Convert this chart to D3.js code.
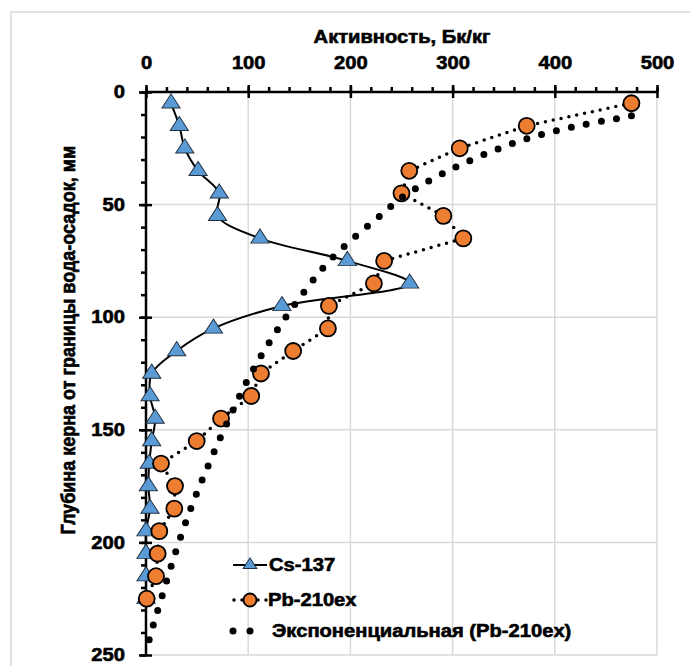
<!DOCTYPE html>
<html>
<head>
<meta charset="utf-8">
<script src="https://cdn.jsdelivr.net/npm/d3@7"></script>
<style>
  body { margin: 0; background: #fff; }
  svg { display: block; }
  text { font-family: "Liberation Sans", Arial, sans-serif; font-weight: bold; fill: #000; stroke: #000; stroke-width: 0.6px; }
</style>
</head>
<body>
<svg width="690" height="666"></svg>
<script>
// глубина, мм
const depths = [5, 15, 25, 35, 45, 55, 65, 75, 85, 95, 105, 115, 125, 135, 145, 155, 165, 175, 185, 195, 205, 215, 225]
// активность Cs-137, Бк/кг
const cs137 = [24.5, 32.6, 38, 51, 71.7, 70, 111.5, 197, 258, 133, 66, 30, 5.6, 4, 9, 5.6, 3.2, 2.3, 3.9, 0, 0, 0, 0]
// активность Pb-210ex, Бк/кг
const pb210 = [475, 372.5, 307, 257.6, 250, 291, 310.5, 233, 223, 179, 178, 144, 112.5, 103, 73.4, 49.6, 14.7, 28.4, 27.7, 13, 11.4, 9.8, 0.7]
// экспоненциальный тренд: [активность, глубина]
const trend = [[475, 10.6], [468, 11.2], [423, 15], [378, 20], [336, 26.8], [294, 35.4], [253, 46], [230, 54.6],
  [183, 73.3], [153, 89.8], [126, 107.4], [102, 125.6], [81.5, 144.8], [62, 164.7], [44, 184.7],
  [28.7, 204.7], [14.7, 225.4], [5.6, 239], [1.6, 245.8], [0.7, 247]]

const xTicks = [0, 100, 200, 300, 400, 500]
const yTicks = [0, 50, 100, 150, 200, 250]
const xMinor = d3.range(0, 501, 20)
const yMinor = d3.range(0, 251, 10)

const sx = 1.12 // растяжение текста по горизонтали
const svg = d3.select('svg')

svg.append('rect')
   .attr('x', 11).attr('y', 12).attr('width', 720).attr('height', 720)
   .attr('fill', 'none').attr('stroke', '#e2e2e2').attr('stroke-width', 2)

const xScale = d3.scaleLinear().domain([0, 500]).range([146, 657])
const yScale = d3.scaleLinear().domain([0, 250]).range([92, 655])

// сетка
const grid = svg.append('g')
grid.selectAll('.gx').data(xTicks.slice(1)).enter().append('line')
    .attr('x1', d => xScale(d)).attr('x2', d => xScale(d))
    .attr('y1', yScale(0)).attr('y2', yScale(250))
    .attr('stroke', '#d9d9d9').attr('stroke-width', 1.5)
grid.selectAll('.gy').data(yTicks.slice(1)).enter().append('line')
    .attr('y1', d => yScale(d)).attr('y2', d => yScale(d))
    .attr('x1', xScale(0)).attr('x2', xScale(500))
    .attr('stroke', '#d9d9d9').attr('stroke-width', 1.5)

// оси
const axisStyle = g => {
  g.selectAll('.domain').remove()
  g.selectAll('line').attr('stroke', '#000').attr('stroke-width', 2.5)
}
svg.append('g').attr('transform', `translate(0,${yScale(0)})`)
   .call(d3.axisTop(xScale).tickValues(xMinor).tickSize(5).tickFormat(''))
   .call(axisStyle)
svg.append('g').attr('transform', `translate(0,${yScale(0)})`)
   .call(d3.axisBottom(xScale).tickValues(xTicks).tickSize(6).tickFormat(''))
   .call(axisStyle)
const xAx = svg.append('g').attr('transform', `translate(0,${yScale(0)})`)
   .call(d3.axisTop(xScale).tickValues(xTicks).tickSize(7).tickPadding(16))
   .call(axisStyle)
xAx.selectAll('text').attr('font-size', 18).attr('transform', `scale(${sx},1)`)
   .attr('x', 0).attr('dy', '0.35em').attr('y', -29)

svg.append('g').attr('transform', `translate(${xScale(0)},0)`)
   .call(d3.axisLeft(yScale).tickValues(yMinor).tickSize(5).tickFormat(''))
   .call(axisStyle)
svg.append('g').attr('transform', `translate(${xScale(0)},0)`)
   .call(d3.axisRight(yScale).tickValues(yTicks).tickSize(6).tickFormat(''))
   .call(axisStyle)
const yAx = svg.append('g').attr('transform', `translate(${xScale(0)},0)`)
   .call(d3.axisLeft(yScale).tickValues(yTicks).tickSize(7).tickPadding(14))
   .call(axisStyle)
yAx.selectAll('text').attr('font-size', 18).attr('transform', `scale(${sx},1)`)
   .attr('x', -21 / sx)

svg.append('line')
   .attr('x1', xScale(0) - 1).attr('x2', xScale(500) + 1)
   .attr('y1', yScale(0)).attr('y2', yScale(0))
   .attr('stroke', '#000').attr('stroke-width', 2.5)
svg.append('line')
   .attr('x1', xScale(0)).attr('x2', xScale(0))
   .attr('y1', yScale(0)).attr('y2', yScale(250))
   .attr('stroke', '#000').attr('stroke-width', 2.5)

// подписи осей
svg.append('text')
   .attr('transform', `translate(402,37) scale(${sx},1)`)
   .attr('text-anchor', 'middle').attr('dy', '0.35em').attr('font-size', 18)
   .text('Активность, Бк/кг')
svg.append('text')
   .attr('transform', `translate(68,340) scale(${sx},1) rotate(-90)`)
   .attr('text-anchor', 'middle').attr('dy', '0.35em').attr('font-size', 18)
   .text('Глубина керна от границы вода-осадок, мм')

const triangle = d3.symbol().type(d3.symbolTriangle)

// Cs-137
const csData = depths.map((d, i) => [cs137[i], d])
svg.append('path')
   .attr('d', d3.line().x(d => xScale(d[0])).y(d => yScale(d[1])).curve(d3.curveCatmullRom)(csData))
   .attr('fill', 'none').attr('stroke', '#000').attr('stroke-width', 2)
svg.selectAll('.cs').data(csData).enter().append('path')
   .attr('d', triangle.size(115))
   .attr('transform', d => `translate(${xScale(d[0])},${yScale(d[1])}) scale(1.12,1)`)
   .attr('fill', '#5B9BD5').attr('stroke', '#203040').attr('stroke-width', 0.9)

// Pb-210ex
const pbData = depths.map((d, i) => [pb210[i], d])
svg.append('path')
   .attr('d', d3.line().x(d => xScale(d[0])).y(d => yScale(d[1]))(pbData))
   .attr('fill', 'none').attr('stroke', '#000').attr('stroke-width', 3.5)
   .attr('stroke-linecap', 'round').attr('stroke-dasharray', '0 8')
svg.selectAll('.pb').data(pbData).enter().append('circle')
   .attr('cx', d => xScale(d[0])).attr('cy', d => yScale(d[1])).attr('r', 8)
   .attr('fill', '#ED7D31').attr('stroke', '#000').attr('stroke-width', 1.8)

// тренд
svg.append('path')
   .attr('d', d3.line().x(d => xScale(d[0])).y(d => yScale(d[1])).curve(d3.curveCatmullRom)(trend))
   .attr('fill', 'none').attr('stroke', '#000').attr('stroke-width', 7)
   .attr('stroke-linecap', 'round').attr('stroke-dasharray', '0 15.3')

// легенда
const lg = svg.append('g')
const rows = [565, 600, 631]
lg.append('line').attr('x1', 233).attr('x2', 267).attr('y1', rows[0]).attr('y2', rows[0])
  .attr('stroke', '#000').attr('stroke-width', 2)
lg.append('path').attr('d', triangle.size(65))
  .attr('transform', `translate(250,${rows[0]}) scale(1.12,1)`)
  .attr('fill', '#5B9BD5').attr('stroke', '#203040').attr('stroke-width', 0.9)
lg.append('line').attr('x1', 234).attr('x2', 267).attr('y1', rows[1]).attr('y2', rows[1])
  .attr('stroke', '#000').attr('stroke-width', 3.5)
  .attr('stroke-linecap', 'round').attr('stroke-dasharray', '0 8')
lg.append('circle').attr('cx', 250).attr('cy', rows[1]).attr('r', 6.5)
  .attr('fill', '#ED7D31').attr('stroke', '#000').attr('stroke-width', 1.8)
lg.selectAll('.ld').data([233, 250]).enter().append('circle')
  .attr('cx', d => d).attr('cy', rows[2]).attr('r', 3.5).attr('fill', '#000')
const labels = ['Cs-137', 'Pb-210ex', 'Экспоненциальная (Pb-210ex)']
const labelX = [269, 268, 272]
lg.selectAll('.lt').data(labels).enter().append('text')
  .attr('transform', (d, i) => `translate(${labelX[i]},${rows[i]}) scale(${sx},1)`)
  .attr('dy', '0.35em').attr('font-size', 18)
  .text(d => d)
</script>
</body>
</html>
